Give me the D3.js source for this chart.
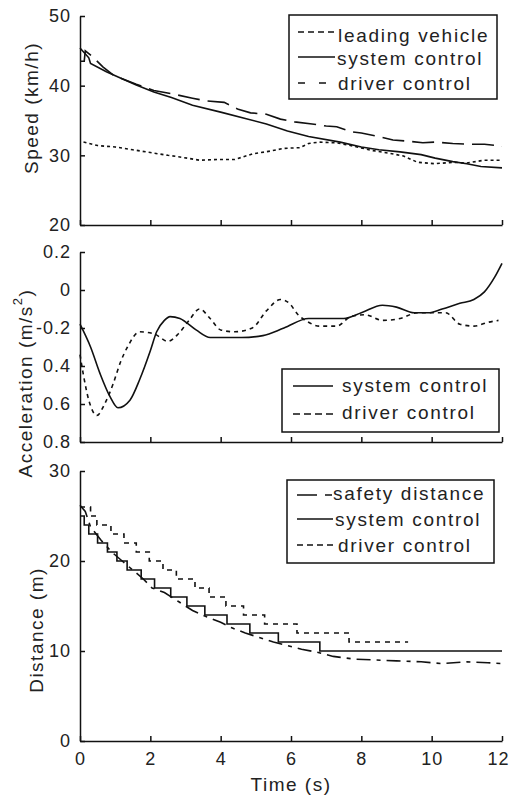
<!DOCTYPE html>
<html>
<head>
<meta charset="utf-8">
<script src="https://cdn.jsdelivr.net/npm/d3@7"></script>
<style>
  body { margin: 0; background: #fff; }
  svg { display: block; }
  text { font-family: "Liberation Sans", Arial, sans-serif; fill: #222; }
</style>
</head>
<body>
<div id="chart"></div>
<script>
// ---- data ----
const timeTicks = [0, 2, 4, 6, 8, 10, 12];
const timeLabels = ["0", "2", "4", "6", "8", "10", "12"];

const speedTicks = [20, 30, 40, 50];
const speedLabels = ["20", "30", "40", "50"];
const accTicks = [0.2, 0, -0.2, -0.4, -0.6, -0.8];
const accLabels = ["0.2", "0", "-0.2", "0.4", "0.6", "0.8"];
const distTicks = [0, 10, 20, 30];
const distLabels = ["0", "10", "20", "30"];

// speed (km/h)
const leadT = [0.1, 0.5, 1.0, 1.5, 2.0, 2.5, 2.8, 3.4, 3.9, 4.4, 4.9, 5.4, 5.8, 6.25, 6.5, 6.8, 7.3, 7.8, 8.3, 8.8, 9.2, 9.6, 10.1, 10.6, 11.0, 11.5, 12];
const leadV = [31.9, 31.4, 31.2, 30.8, 30.4, 30.0, 29.8, 29.3, 29.4, 29.4, 30.2, 30.6, 31.0, 31.1, 31.7, 31.9, 31.8, 31.3, 30.7, 30.3, 29.9, 29.0, 28.8, 29.0, 28.9, 29.3, 29.3];
const sysSpeedT = [0, 0.25, 0.3, 0.75, 1.1, 1.6, 2.1, 2.6, 3.2, 4.0, 4.7, 5.3, 5.9, 6.5, 7.4, 8.0, 8.5, 9.1, 9.7, 10.1, 10.6, 11.0, 11.4, 12];
const sysSpeedV = [45.4, 44.0, 43.2, 42.0, 41.2, 40.1, 39.1, 38.3, 37.2, 36.2, 35.3, 34.5, 33.5, 32.7, 31.9, 31.2, 30.8, 30.5, 30.1, 29.6, 29.1, 28.8, 28.4, 28.2];
const drvSpeedT = [0, 0.12, 0.15, 0.35, 0.65, 0.95, 1.6, 2.1, 2.65, 3.2, 3.6, 4.1, 4.5, 4.85, 5.3, 5.7, 6.1, 6.6, 7.0, 7.3, 7.7, 8.0, 8.5, 8.9, 9.4, 9.75, 10.1, 10.6, 11.0, 11.5, 12];
const drvSpeedV = [43.5, 43.5, 45.0, 44.2, 42.7, 41.5, 40.2, 39.3, 38.8, 38.2, 37.8, 37.6, 36.6, 36.1, 35.9, 35.2, 34.8, 34.5, 34.2, 34.1, 33.4, 33.2, 32.7, 32.2, 32.0, 31.8, 31.9, 31.7, 31.6, 31.6, 31.3];

// acceleration (m/s2)
const sysAccT = [0, 0.3, 0.57, 0.85, 1.08, 1.42, 1.7, 2.0, 2.18, 2.4, 2.56, 2.84, 3.3, 3.7, 4.6, 5.2, 5.8, 6.5, 7.5, 8.0, 8.6, 9.0, 9.5, 9.9, 10.3, 10.8, 11.2, 11.5, 11.8, 12];
const sysAccV = [-0.18, -0.3, -0.44, -0.56, -0.62, -0.58, -0.47, -0.32, -0.22, -0.16, -0.14, -0.15, -0.21, -0.25, -0.25, -0.24, -0.2, -0.15, -0.15, -0.12, -0.08, -0.09, -0.12, -0.12, -0.1, -0.07, -0.05, -0.01, 0.07, 0.14];
const drvAccT = [0, 0.1, 0.25, 0.48, 0.7, 0.95, 1.15, 1.35, 1.7, 2.1, 2.5, 2.8, 3.1, 3.4, 3.7, 4.0, 4.4, 4.9, 5.3, 5.7, 5.95, 6.2, 6.5, 6.8, 7.3, 7.7, 8.1, 8.6, 9.1, 9.6, 10.0, 10.4, 10.8, 11.2, 11.6, 11.9];
const drvAccV = [-0.34, -0.45, -0.58, -0.66, -0.6, -0.49, -0.38, -0.3, -0.22, -0.23, -0.27, -0.23, -0.16, -0.1, -0.15, -0.21, -0.22, -0.2, -0.11, -0.05, -0.07, -0.13, -0.17, -0.19, -0.19, -0.14, -0.13, -0.16, -0.15, -0.12, -0.12, -0.12, -0.18, -0.19, -0.17, -0.16];

// distance (m), steps start at each time
const safeT = [0, 0.15, 0.3, 0.6, 0.9, 1.2, 1.5, 1.8, 2.05, 2.4, 2.8, 3.2, 3.6, 4.0, 4.3, 4.7, 5.1, 5.5, 5.9, 6.3, 6.7, 7.2, 7.8, 8.4, 9.0, 9.7, 10.3, 11.0, 11.6, 12];
const safeV = [26.2, 25.5, 23.8, 22.3, 21, 20, 19, 18, 17, 16.5, 15.5, 14.5, 13.8, 13.2, 12.6, 12, 11.5, 11, 10.6, 10.2, 9.9, 9.4, 9.1, 9.0, 8.9, 8.8, 8.6, 8.8, 8.7, 8.6];
const sysDistT = [0, 0.12, 0.25, 0.5, 0.78, 1.05, 1.34, 1.74, 2.12, 2.58, 3.04, 3.55, 4.18, 4.83, 5.64, 6.82, 12];
const sysDistV = [25, 24, 23, 22, 21, 20, 19, 18, 17, 16, 15, 14, 13, 12, 11, 10, 10];
const drvDistT = [0, 0.3, 0.48, 0.88, 1.25, 1.6, 1.97, 2.36, 2.74, 3.27, 3.67, 4.15, 4.65, 5.25, 6.17, 7.65, 9.33];
const drvDistV = [26, 25, 24, 23, 22, 21, 20, 19, 18, 17, 16, 15, 14, 13, 12, 11, 11];

// ---- drawing ----
const svg = d3.select("#chart").append("svg")
    .attr("width", 510)
    .attr("height", 798);

const x = d3.scaleLinear().domain([0, 12]).range([80, 502]);
const ySpeed = d3.scaleLinear().domain([20, 50]).range([225, 16]);
const yAcc = d3.scaleLinear().domain([-0.8, 0.2]).range([442, 252]);
const yDist = d3.scaleLinear().domain([0, 30]).range([741, 471]);

const zip = (t, v) => t.map((d, i) => [d, v[i]]);

function axes(y, ticks, labels, showTime) {
    const left = svg.append("g")
        .attr("transform", "translate(80,0)")
        .call(d3.axisLeft(y).tickValues(ticks)
            .tickFormat((d, i) => labels[i])
            .tickSize(-5).tickSizeOuter(0).tickPadding(9));
    const bottom = svg.append("g")
        .attr("transform", "translate(0," + y.range()[0] + ")")
        .call(d3.axisBottom(x).tickValues(timeTicks)
            .tickFormat(showTime ? (d, i) => timeLabels[i] : "")
            .tickSize(-5).tickSizeOuter(0).tickPadding(11));
    [left, bottom].forEach(g => {
        g.attr("font-size", 18).attr("font-family", null);
        g.selectAll(".domain, line").attr("stroke", "#111").attr("stroke-width", 1.5);
        g.selectAll("text").attr("fill", "#222").style("letter-spacing", "1px");
    });
    if (showTime) {
        // last label sits against the right edge, keep it inside the page
        bottom.selectAll(".tick text")
            .filter(d => d === 12)
            .attr("text-anchor", "end")
            .attr("x", 509 - x(12));
    }
}

function series(y, t, v, dash, curve) {
    const line = d3.line()
        .x(d => x(d[0]))
        .y(d => y(d[1]))
        .curve(curve || d3.curveLinear);
    svg.append("path")
        .datum(zip(t, v))
        .attr("d", line)
        .attr("fill", "none")
        .attr("stroke", "#111")
        .attr("stroke-width", 1.6)
        .attr("stroke-dasharray", dash);
}

function yTitle(cx, cy, parts) {
    const t = svg.append("text")
        .attr("transform", "translate(" + cx + "," + cy + ") rotate(-90)")
        .attr("text-anchor", "middle")
        .attr("dominant-baseline", "central")
        .attr("font-size", 19)
        .style("letter-spacing", "1.5px");
    parts.forEach(p => {
        const s = t.append("tspan").text(p.text);
        if (p.sup) s.attr("baseline-shift", "super").attr("font-size", 13);
    });
}

function legend(box, rows) {
    svg.append("rect")
        .attr("x", box[0]).attr("y", box[1])
        .attr("width", box[2]).attr("height", box[3])
        .attr("fill", "#fff").attr("stroke", "#111").attr("stroke-width", 1.5);
    rows.forEach(r => {
        svg.append("line")
            .attr("x1", r.x1).attr("x2", r.x2)
            .attr("y1", r.ly).attr("y2", r.ly)
            .attr("stroke", "#111").attr("stroke-width", 1.6)
            .attr("stroke-dasharray", r.dash);
        svg.append("text")
            .attr("x", r.tx).attr("y", r.ty)
            .attr("font-size", 19)
            .style("letter-spacing", "1.7px")
            .text(r.label);
    });
}

// panel 1: speed
axes(ySpeed, speedTicks, speedLabels, false);
series(ySpeed, leadT, leadV, "3,3");
series(ySpeed, drvSpeedT, drvSpeedV, "22,8");
series(ySpeed, sysSpeedT, sysSpeedV, null);
yTitle(31, 108, [{text: "Speed (km/h)"}]);
legend([289, 15, 208, 84], [
    {label: "leading vehicle", dash: "6,4", x1: 298, x2: 337, ly: 32, tx: 338, ty: 42},
    {label: "system control", dash: null, x1: 298, x2: 335, ly: 57, tx: 337, ty: 65},
    {label: "driver control", dash: "7,14", x1: 298, x2: 330, ly: 83, tx: 338, ty: 90}
]);

// panel 2: acceleration
axes(yAcc, accTicks, accLabels, false);
series(yAcc, drvAccT, drvAccV, "4,4", d3.curveMonotoneX);
series(yAcc, sysAccT, sysAccV, null, d3.curveMonotoneX);
yTitle(25, 383, [{text: "Acceleration (m/s"}, {text: "2", sup: true}, {text: ")"}]);
legend([282, 369, 217, 63], [
    {label: "system control", dash: null, x1: 293, x2: 333, ly: 386, tx: 342, ty: 392},
    {label: "driver control", dash: "7,4", x1: 293, x2: 333, ly: 414, tx: 342, ty: 419}
]);

// panel 3: distance
axes(yDist, distTicks, distLabels, true);
series(yDist, safeT, safeV, "14,6,4,6");
series(yDist, drvDistT, drvDistV, "5,5", d3.curveStepAfter);
series(yDist, sysDistT, sysDistV, null, d3.curveStepAfter);
yTitle(36, 630, [{text: "Distance (m)"}]);
legend([287, 480, 207, 83], [
    {label: "safety distance", dash: "20,8,7,50", x1: 297, x2: 332, ly: 495, tx: 333, ty: 500},
    {label: "system control", dash: null, x1: 297, x2: 333, ly: 519, tx: 335, ty: 526},
    {label: "driver control", dash: "6,4", x1: 297, x2: 333, ly: 545, tx: 338, ty: 552}
]);

svg.append("text")
    .attr("x", 291).attr("y", 791)
    .attr("text-anchor", "middle")
    .attr("font-size", 19)
    .style("letter-spacing", "1.5px")
    .text("Time (s)");
</script>
</body>
</html>
